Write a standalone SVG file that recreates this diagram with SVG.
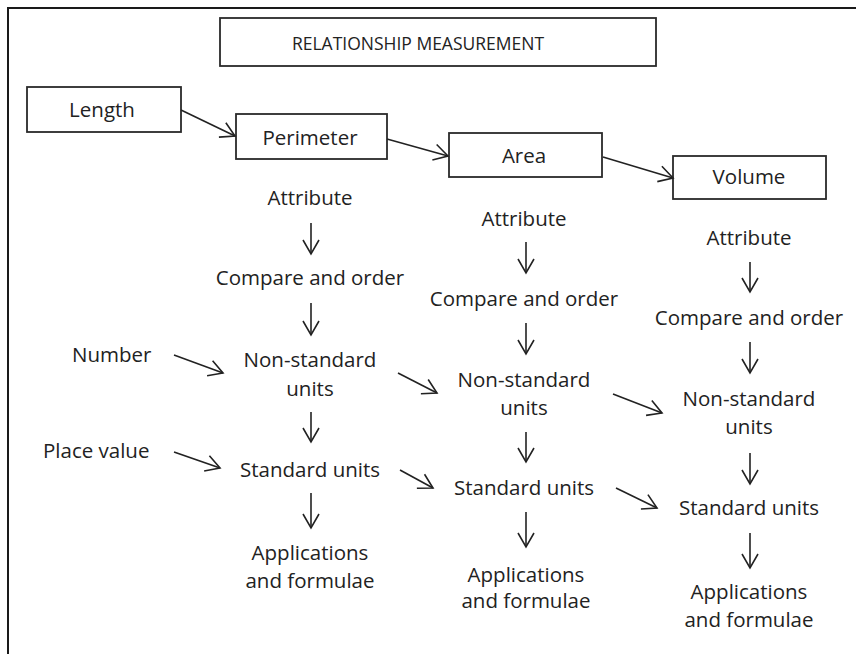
<svg xmlns="http://www.w3.org/2000/svg" width="856" height="654" viewBox="0 0 856 654">
<style>
.frame{fill:none;stroke:#1a1a1a;stroke-width:2}
.box{fill:#fff;stroke:#2a2a2a;stroke-width:1.8}
.t{font-family:"Open Sans","Liberation Sans",sans-serif;font-size:20.5px;fill:#222;text-anchor:middle}
.ts{font-family:"Open Sans","Liberation Sans",sans-serif;font-size:20.5px;fill:#222}
.title{font-family:"Open Sans","Liberation Sans",sans-serif;font-size:17.5px;fill:#222;text-anchor:middle}
.c line{stroke:#222;stroke-width:1.6;marker-end:url(#ah)}
</style>
<defs>
<marker id="ah" viewBox="-16 -10 18 20" refX="0" refY="0" markerWidth="18" markerHeight="20" markerUnits="userSpaceOnUse" orient="auto">
<path d="M-14,-8 L0,0 L-14,8" fill="none" stroke="#222" stroke-width="1.6"/>
</marker>
</defs>
<rect class="frame" x="8" y="8" width="900" height="700"/>
<g id="title"><rect class="box" x="220" y="18" width="436" height="48"/><text class="title" x="418" y="50">RELATIONSHIP MEASUREMENT</text></g>
<g id="length"><rect class="box" x="27" y="87" width="154" height="45"/><text class="t" x="102" y="117">Length</text></g>
<g id="perimeter"><rect class="box" x="236" y="114" width="151" height="45"/><text class="t" x="310" y="145">Perimeter</text></g>
<g id="area"><rect class="box" x="449" y="133" width="153" height="44"/><text class="t" x="524" y="163">Area</text></g>
<g id="volume"><rect class="box" x="673" y="156" width="153" height="43"/><text class="t" x="749" y="184">Volume</text></g>
<g id="number"><text class="ts" x="72" y="362">Number</text></g>
<g id="placevalue"><text class="ts" x="43" y="458">Place value</text></g>
<g id="p-attr"><text class="t" x="310" y="205">Attribute</text></g>
<g id="p-comp"><text class="t" x="310" y="285">Compare and order</text></g>
<g id="p-ns"><text class="t" x="310" y="367">Non-standard</text><text class="t" x="310" y="396">units</text></g>
<g id="p-std"><text class="t" x="310" y="477">Standard units</text></g>
<g id="p-app"><text class="t" x="310" y="560">Applications</text><text class="t" x="310" y="588">and formulae</text></g>
<g id="a-attr"><text class="t" x="524" y="226">Attribute</text></g>
<g id="a-comp"><text class="t" x="524" y="306">Compare and order</text></g>
<g id="a-ns"><text class="t" x="524" y="387">Non-standard</text><text class="t" x="524" y="415">units</text></g>
<g id="a-std"><text class="t" x="524" y="495">Standard units</text></g>
<g id="a-app"><text class="t" x="526" y="582">Applications</text><text class="t" x="526" y="608">and formulae</text></g>
<g id="v-attr"><text class="t" x="749" y="245">Attribute</text></g>
<g id="v-comp"><text class="t" x="749" y="325">Compare and order</text></g>
<g id="v-ns"><text class="t" x="749" y="406">Non-standard</text><text class="t" x="749" y="434">units</text></g>
<g id="v-std"><text class="t" x="749" y="515">Standard units</text></g>
<g id="v-app"><text class="t" x="749" y="599">Applications</text><text class="t" x="749" y="627">and formulae</text></g>
<g id="connectors" class="c">
<line x1="181" y1="110" x2="235" y2="136"/>
<line x1="387" y1="139" x2="448" y2="156"/>
<line x1="603" y1="157" x2="673" y2="178"/>
<line x1="174" y1="355" x2="223" y2="373"/>
<line x1="174" y1="452" x2="220" y2="468"/>
<line x1="398" y1="373" x2="437" y2="393"/>
<line x1="613" y1="394" x2="662" y2="413"/>
<line x1="400" y1="470" x2="433" y2="488"/>
<line x1="616" y1="488" x2="657" y2="508"/>
<line x1="311" y1="223" x2="311" y2="254"/>
<line x1="311" y1="303" x2="311" y2="335"/>
<line x1="311" y1="412" x2="311" y2="442"/>
<line x1="311" y1="493" x2="311" y2="528"/>
<line x1="526" y1="242" x2="526" y2="273"/>
<line x1="526" y1="323" x2="526" y2="354"/>
<line x1="526" y1="432" x2="526" y2="462"/>
<line x1="526" y1="512" x2="526" y2="547"/>
<line x1="750" y1="262" x2="750" y2="292"/>
<line x1="750" y1="342" x2="750" y2="373"/>
<line x1="750" y1="453" x2="750" y2="484"/>
<line x1="750" y1="533" x2="750" y2="568"/>
</g>
</svg>
